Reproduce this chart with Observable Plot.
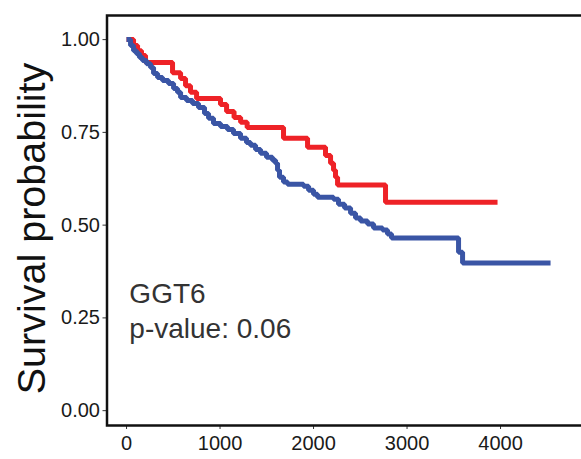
<!DOCTYPE html>
<html>
<head>
<meta charset="utf-8">
<script src="https://cdn.jsdelivr.net/npm/d3@7"></script>
<script src="https://cdn.jsdelivr.net/npm/@observablehq/plot@0.6"></script>
<style>
  html, body { margin: 0; padding: 0; background: #fff; }
  #chart svg { display: block; }
</style>
</head>
<body>
<div id="chart"></div>
<script>
// High group (red)
const redTime = [0, 75, 118, 160, 203, 492, 578, 631, 684, 749, 1005, 1070, 1150, 1220, 1290, 1679, 1936, 2128, 2182, 2214, 2235, 2257, 2770, 3968];
const redSurv = [1.0, 0.984, 0.970, 0.957, 0.938, 0.911, 0.895, 0.876, 0.858, 0.841, 0.825, 0.806, 0.790, 0.777, 0.763, 0.734, 0.710, 0.688, 0.667, 0.648, 0.629, 0.608, 0.562, 0.562];
// Low group (blue)
const blueTime = [0, 43, 75, 107, 139, 171, 214, 257, 289, 332, 385, 449, 503, 545, 578, 642, 706, 770, 834, 877, 930, 1005, 1080, 1144, 1219, 1283, 1326, 1380, 1433, 1497, 1561, 1594, 1615, 1636, 1679, 1722, 1893, 1947, 2000, 2043, 2214, 2267, 2332, 2396, 2449, 2503, 2578, 2642, 2738, 2791, 2834, 3551, 3594, 4535];
const blueSurv = [1.0, 0.984, 0.970, 0.962, 0.952, 0.944, 0.935, 0.925, 0.909, 0.898, 0.890, 0.882, 0.868, 0.858, 0.844, 0.836, 0.828, 0.817, 0.801, 0.788, 0.774, 0.766, 0.758, 0.747, 0.734, 0.723, 0.715, 0.704, 0.694, 0.683, 0.675, 0.667, 0.648, 0.629, 0.616, 0.610, 0.605, 0.594, 0.583, 0.575, 0.570, 0.556, 0.546, 0.532, 0.519, 0.511, 0.503, 0.492, 0.487, 0.476, 0.465, 0.427, 0.398, 0.398];

const xTicks = [0, 1000, 2000, 3000, 4000];
const yTicks = [0, 0.25, 0.5, 0.75, 1];
const yLabel = "Survival probability";
const annotLines = ["GGT6", "p-value: 0.06"];
const annotY = [0.29, 0.196];
const annotX = 30;

const red = redTime.map((t, i) => ({t, s: redSurv[i]}));
const blue = blueTime.map((t, i) => ({t, s: blueSurv[i]}));
const annot = annotLines.map((txt, i) => ({txt, x: annotX, y: annotY[i]}));

const chart = Plot.plot({
  width: 581,
  height: 459,
  marginLeft: 106.5,
  marginRight: 0,
  marginTop: 15,
  marginBottom: 34,
  style: {fontFamily: "'Liberation Sans', Arial, sans-serif", background: "#fff"},
  x: {domain: [-209, 4866]},
  y: {domain: [-0.04, 1.065]},
  marks: [
    Plot.axisX({ticks: xTicks, tickSize: 4, tickPadding: 6, fontSize: 20, stroke: "#333", color: "#1a1a1a", tickFormat: d3.format("d"), label: null}),
    Plot.axisY({ticks: yTicks, tickSize: 4, tickPadding: 3, fontSize: 20, stroke: "#333", color: "#1a1a1a", tickFormat: d3.format(".2f"), label: null}),
    Plot.line(red, {x: "t", y: "s", curve: "step-after", stroke: "#EE2227", strokeWidth: 5, strokeLinecap: "butt", strokeLinejoin: "miter"}),
    Plot.line(blue, {x: "t", y: "s", curve: "step-after", stroke: "#3A55A5", strokeWidth: 5, strokeLinecap: "butt", strokeLinejoin: "miter"}),
    Plot.frame({stroke: "#111", strokeWidth: 2.5, insetRight: -10}),
    Plot.text(annot, {x: "x", y: "y", text: "txt", textAnchor: "start", lineAnchor: "bottom", fontSize: 28, fill: "#333"}),
    Plot.text([yLabel], {frameAnchor: "left", textAnchor: "middle", rotate: -90, dx: -62.5, dy: 8, lineAnchor: "bottom", fontSize: 39.5, fill: "#111"})
  ]
});
document.getElementById("chart").appendChild(chart);
</script>
</body>
</html>
